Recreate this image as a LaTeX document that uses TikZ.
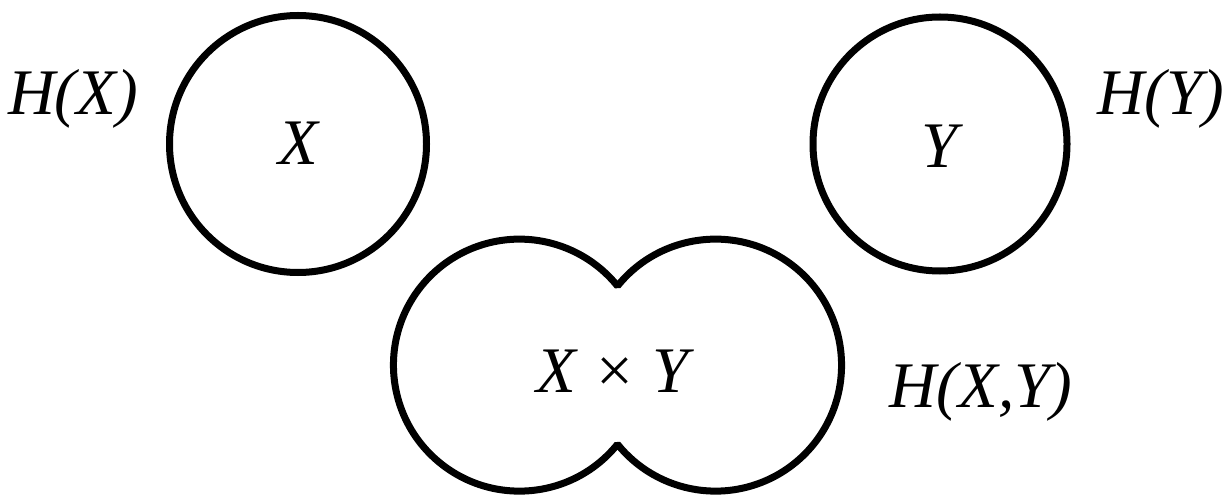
\documentclass[tikz,border=0pt]{standalone}
\usepackage{fontspec}
\setmainfont{Liberation Serif}
\begin{document}
\begin{tikzpicture}[x=1pt,y=1pt,
  lbl/.style={font=\fontsize{65}{78}\selectfont\itshape, inner sep=0pt, anchor=base},
  ring/.style={draw, circle, line width=7pt, inner sep=0pt, minimum size=257pt},
  blob/.style={draw, line width=7pt, line join=bevel}]
\useasboundingbox (0,0) rectangle (1226,496);
\node[ring] (cx) at (298,352) {};
\node[ring, minimum size=254pt] (cy) at (940,352) {};
\draw[blob] (617.5,210) arc[start angle=141.1,end angle=-141.1,radius=126]
  arc[start angle=-38.9,end angle=-321.1,radius=126] -- cycle;
\node[lbl] (hx) at (73,381) {H(X)};
\node[lbl] (tx) at (298,331) {X};
\node[lbl] (ty) at (940,328) {Y};
\node[lbl] (hy) at (1161,381) {H(Y)};
\node[lbl] (txy) at (613,104) {X × Y};
\node[lbl] (hxy) at (981,89) {H(X,Y)};
\end{tikzpicture}
\end{document}
